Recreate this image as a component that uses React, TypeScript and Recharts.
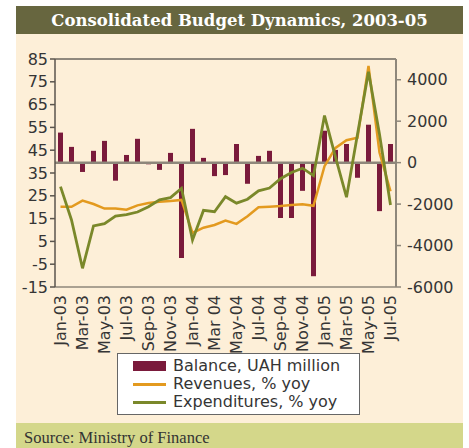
import React from 'react';
import { ComposedChart, Bar, Line, XAxis, YAxis, ReferenceLine } from 'recharts';

const months = [
  'Jan-03', 'Feb-03', 'Mar-03', 'Apr-03', 'May-03', 'Jun-03', 'Jul-03', 'Aug-03', 'Sep-03', 'Oct-03', 'Nov-03', 'Dec-03',
  'Jan-04', 'Feb-04', 'Mar 04', 'Apr-04', 'May-04', 'Jun-04', 'Jul-04', 'Aug-04', 'Sep-04', 'Oct-04', 'Nov-04', 'Dec-04',
  'Jan-05', 'Feb-05', 'Mar-05', 'Apr-05', 'May-05', 'Jun-05', 'Jul-05',
];

const balance = [
  1450, 760, -450, 570, 1050, -870, 370, 1150, -80, -350, 470, -4600,
  1630, 230, -650, -600, 900, -1020, 325, 570, -2670, -2670, -1360, -5480,
  1540, 615, 900, -730, 1830, -2340, 900,
];

const revenues = [
  20.2, 20.2, 22.9, 21.4, 19.4, 19.4, 18.9, 20.8, 21.8, 22.4, 22.7, 23.2,
  8.7, 11.0, 12.2, 14.1, 12.7, 16.0, 20.0, 20.2, 20.5, 21.0, 21.3, 20.6,
  38.0, 46.0, 49.4, 50.5, 82.0, 44.0, 27.0,
];

const expenditures = [
  29.0, 14.4, -6.8, 11.8, 12.8, 16.1, 16.7, 17.9, 20.2, 23.2, 24.2, 28.3,
  5.6, 18.6, 18.0, 24.6, 21.8, 23.5, 27.2, 28.4, 32.5, 35.2, 37.1, 33.8,
  60.2, 42.0, 24.4, 52.0, 79.4, 52.0, 21.0,
];

const leftTicks = [-15, -5, 5, 15, 25, 35, 45, 55, 65, 75, 85];
const rightTicks = [-6000, -4000, -2000, 0, 2000, 4000];

const seriesNames = ['Balance, UAH million', 'Revenues, % yoy', 'Expenditures, % yoy'];
const titleText = 'Consolidated Budget Dynamics, 2003-05';
const sourceText = 'Source: Ministry of Finance';

const data = months.map((m, i) => ({
  month: m,
  balance: balance[i],
  revenues: revenues[i],
  expenditures: expenditures[i],
}));

const C_BAR = '#7A1A3B';
const C_REV = '#E39A1F';
const C_EXP = '#7A882A';
const C_CREAM = '#FDEFD8';
const C_TITLE = '#67663F';
const C_SOURCE = '#D4D78A';
const C_TEXT = '#353535';
const C_GRAY = '#8E877B';
const FONT = '"DejaVu Sans", sans-serif';

const XTick = (props: any) => {
  const { x, y, payload } = props;
  return (
    <g transform={`translate(${x},${y})`}>
      <text
        transform="rotate(-90)"
        x={0}
        y={0}
        textAnchor="end"
        dominantBaseline="central"
        fill={C_TEXT}
        fontSize={16}
        fontFamily={FONT}
      >
        {payload.value}
      </text>
    </g>
  );
};

export default function App() {
  return (
    <div style={{ position: 'absolute', left: 0, top: 0, width: 469, height: 448, background: '#fff', overflow: 'hidden' }}>
      <div style={{ position: 'absolute', left: 16, top: 6, width: 447, height: 442, background: C_CREAM }} />
      <div
        style={{
          position: 'absolute', left: 16, top: 6, width: 447, height: 28, background: C_TITLE,
          color: '#fff', fontFamily: '"DejaVu Serif", serif', fontWeight: 'bold', fontSize: 16.5,
          lineHeight: '29px', textAlign: 'center', whiteSpace: 'nowrap',
        }}
      >
        {titleText}
      </div>
      <div
        style={{
          position: 'absolute', left: 16, top: 423, width: 447, height: 25, background: C_SOURCE,
          color: '#333', fontFamily: '"Liberation Serif", serif', fontSize: 16.5, lineHeight: '30px',
          paddingLeft: 8, boxSizing: 'border-box', whiteSpace: 'nowrap',
        }}
      >
        {sourceText}
      </div>
      <div style={{ position: 'absolute', left: 0, top: 0 }}>
        <ComposedChart width={469} height={448} data={data} margin={{ top: 59, right: 0, bottom: 101, left: 0 }}>
          <XAxis
            dataKey="month"
            xAxisId={0}
            interval={1}
            height={60}
            tick={<XTick />}
            tickLine={false}
            axisLine={{ stroke: C_GRAY, strokeWidth: 1.5 }}
          />
          <YAxis
            yAxisId="left"
            orientation="left"
            width={55}
            domain={[-15, 85]}
            ticks={leftTicks}
            interval={0}
            tickSize={5}
            tickMargin={2}
            axisLine={{ stroke: '#5A554E', strokeWidth: 1.5 }}
            tickLine={{ stroke: '#5A554E', strokeWidth: 1.5 }}
            tick={{ fill: C_TEXT, fontSize: 16, fontFamily: FONT }}
          />
          <YAxis
            yAxisId="right"
            orientation="right"
            width={73}
            domain={[-6000, 5000]}
            ticks={rightTicks}
            interval={0}
            tickSize={5}
            tickMargin={6}
            axisLine={{ stroke: C_GRAY, strokeWidth: 2 }}
            tickLine={{ stroke: C_GRAY, strokeWidth: 1.5 }}
            tick={{ fill: C_TEXT, fontSize: 16, fontFamily: FONT }}
          />
          <ReferenceLine yAxisId="left" y={85} stroke="#222" strokeWidth={1} />
          <Bar yAxisId="right" dataKey="balance" fill={C_BAR} barSize={5} isAnimationActive={false} />
          <ReferenceLine yAxisId="right" y={0} stroke={C_GRAY} strokeWidth={2.5} />
          <Line yAxisId="left" type="linear" dataKey="revenues" stroke={C_REV} strokeWidth={2.5} dot={false} isAnimationActive={false} />
          <Line yAxisId="left" type="linear" dataKey="expenditures" stroke={C_EXP} strokeWidth={2.8} dot={false} isAnimationActive={false} />
        </ComposedChart>
      </div>
      <div
        style={{
          position: 'absolute', left: 117, top: 353, width: 243, height: 62, background: '#fff',
          border: '1px solid #666', boxSizing: 'border-box', fontFamily: FONT, fontSize: 16, color: C_TEXT,
        }}
      >
        {seriesNames.map((name, i) => (
          <div key={name} style={{ position: 'absolute', left: 0, top: 3 + i * 18, height: 18, width: 240 }}>
            {i === 0 ? (
              <div style={{ position: 'absolute', left: 15, top: 4, width: 33, height: 10, background: C_BAR }} />
            ) : (
              <div style={{ position: 'absolute', left: 15, top: 8, width: 33, height: 3, background: i === 1 ? C_REV : C_EXP }} />
            )}
            <div style={{ position: 'absolute', left: 55, top: 0, lineHeight: '18px', whiteSpace: 'nowrap' }}>{name}</div>
          </div>
        ))}
      </div>
    </div>
  );
}
